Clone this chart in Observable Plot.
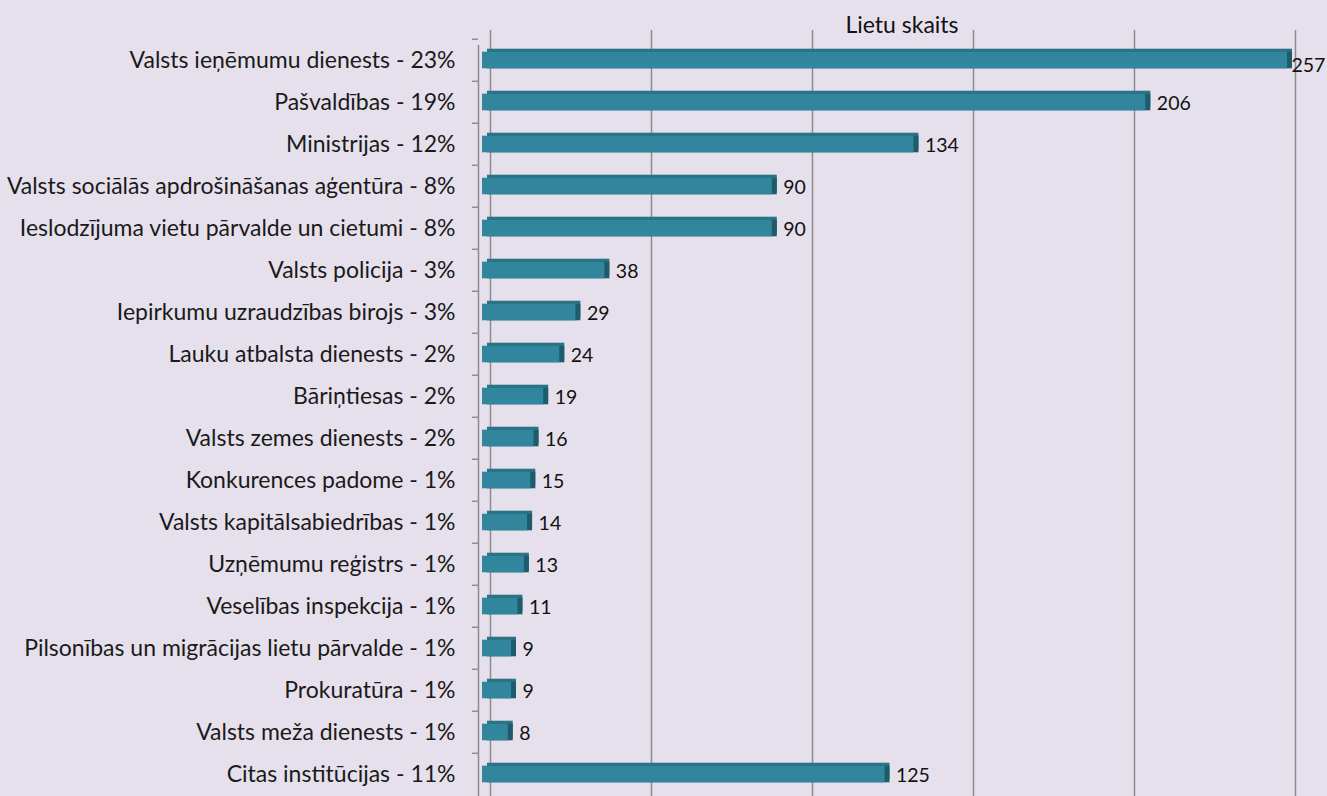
<!DOCTYPE html>
<html>
<head>
<meta charset="utf-8">
<script src="https://cdn.jsdelivr.net/npm/d3@7"></script>
<script src="https://cdn.jsdelivr.net/npm/@observablehq/plot@0.6"></script>
<style>
  html, body { margin: 0; padding: 0; background: #e6e0ec; }
  #chart svg { display: block; background: #e6e0ec; }
</style>
</head>
<body>
<div id="chart"></div>
<script>
const categories = [
  "Valsts ieņēmumu dienests - 23%",
  "Pašvaldības - 19%",
  "Ministrijas - 12%",
  "Valsts sociālās apdrošināšanas aģentūra - 8%",
  "Ieslodzījuma vietu pārvalde un cietumi - 8%",
  "Valsts policija - 3%",
  "Iepirkumu uzraudzības birojs - 3%",
  "Lauku atbalsta dienests - 2%",
  "Bāriņtiesas - 2%",
  "Valsts zemes dienests - 2%",
  "Konkurences padome - 1%",
  "Valsts kapitālsabiedrības - 1%",
  "Uzņēmumu reģistrs - 1%",
  "Veselības inspekcija - 1%",
  "Pilsonības un migrācijas lietu pārvalde - 1%",
  "Prokuratūra - 1%",
  "Valsts meža dienests - 1%",
  "Citas institūcijas - 11%"
];
const values = [257, 206, 134, 90, 90, 38, 29, 24, 19, 16, 15, 14, 13, 11, 9, 9, 8, 125];
const gridTicks = [0, 50, 100, 150, 200, 250];
const axisMax = 250;
const axisTitle = "Lietu skaits";

const data = categories.map((c, i) => ({category: c, value: values[i]}));
const inside = data.filter(d => d.value <= axisMax);
const overflow = data.filter(d => d.value > axisMax);

const font = "Lato, 'Open Sans', sans-serif";
const chart = Plot.plot({
  width: 1327,
  height: 796,
  marginLeft: 482,
  marginRight: 40,
  marginTop: 30,
  marginBottom: 0,
  style: {fontFamily: font, background: "#e6e0ec"},
  x: {domain: [0, axisMax], clamp: true, axis: null},
  y: {domain: categories, range: [35.3, 798.5], padding: 0, axis: null},
  marks: [
    Plot.ruleX(gridTicks, {dx: 8, stroke: "#8c8c8c", strokeWidth: 1.5}),
    Plot.ruleX([0], {dx: -4, insetTop: 15, stroke: "#8c8c8c", strokeWidth: 1.5}),
    Plot.axisY({tickSize: 6, text: null, label: null, dx: -4, dy: -21.2, stroke: "#8c8c8c", strokeWidth: 1.5}),
    Plot.axisY({tickSize: 0, tickPadding: 27, fontSize: 23, fill: "#1a1a1a", label: null}),
    Plot.barX(data, {x: "value", y: "category", insetTop: 12.7, insetBottom: 12.7, dx: 5, dy: -3, fill: "#2a7486"}),
    Plot.barX(data, {x: "value", y: "category", insetTop: 12.7, insetBottom: 12.7, dx: 5, dy: 0, fill: "#1f5c6b"}),
    Plot.barX(data, {x: "value", y: "category", insetTop: 12.7, insetBottom: 12.7, fill: "#31859c"}),
    Plot.text(inside, {x: "value", y: "category", text: d => String(d.value), textAnchor: "start", dx: 11, dy: 1, fontSize: 19.5, fill: "#111"}),
    Plot.text(overflow, {x: "value", y: "category", text: d => String(d.value), textAnchor: "start", dx: 4, dy: 5, fontSize: 19.5, fill: "#111"}),
    Plot.text([axisTitle], {frameAnchor: "top", dx: 17, dy: 2, lineAnchor: "bottom", fontSize: 23, fill: "#111"})
  ]
});
document.getElementById("chart").appendChild(chart);
</script>
</body>
</html>
